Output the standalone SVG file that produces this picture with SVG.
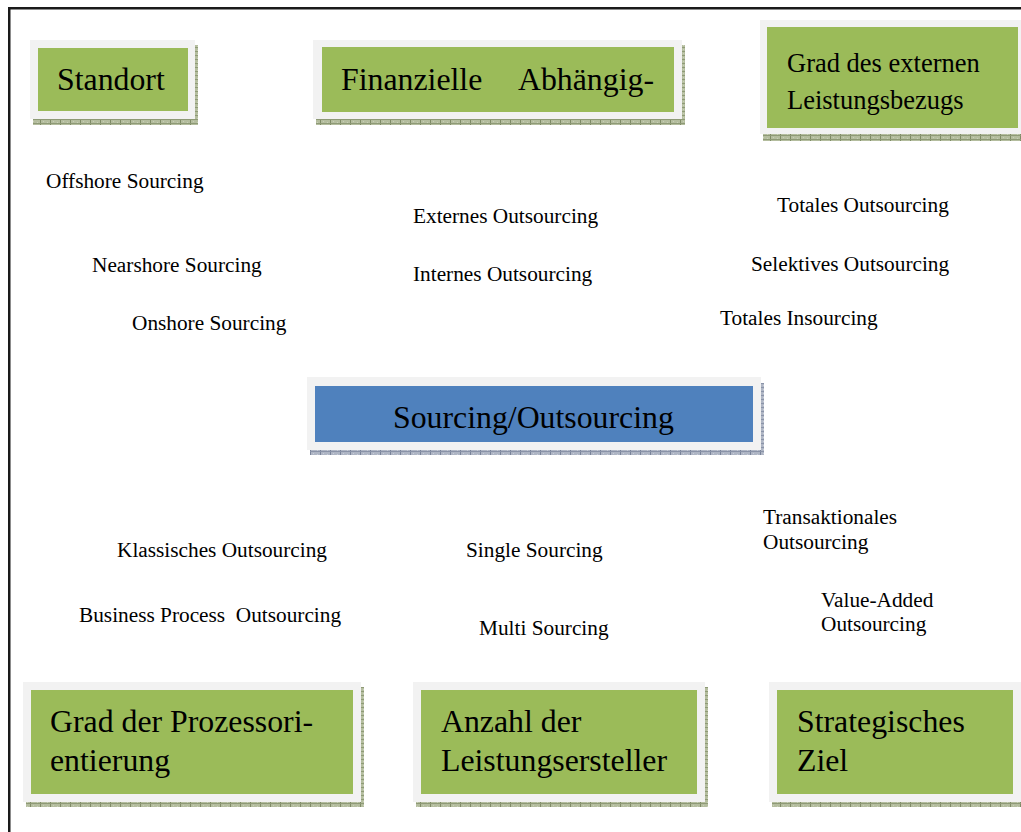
<svg xmlns="http://www.w3.org/2000/svg" width="1021" height="832" viewBox="0 0 1021 832">
<style>
.frame{fill:#f2f2f2}
.green{fill:#9bbb59}
.blue{fill:#4f81bd}
.shg{fill:url(#shadowG)}
.shb{fill:url(#shadowB)}
.t{font-family:"Liberation Serif","Times New Roman",serif;fill:#000}
.big{font-size:31.8px}
.mid{font-size:26.5px}
.small{font-size:21.3px}
</style>
<defs>
<pattern id="shadowG" patternUnits="userSpaceOnUse" width="10" height="4">
<rect width="10" height="4" fill="#b4bd9e"/>
<rect x="0" y="0" width="1" height="4" fill="#7f8b66"/>
<rect x="3" y="1" width="1" height="1" fill="#c9d0b8"/>
<rect x="7" y="2" width="1" height="1" fill="#c9d0b8"/>
<rect x="0" y="3" width="10" height="1" fill="#8e9a76"/>
</pattern>
<pattern id="shadowB" patternUnits="userSpaceOnUse" width="10" height="4">
<rect width="10" height="4" fill="#aeb5c4"/>
<rect x="0" y="0" width="1" height="4" fill="#7a849a"/>
<rect x="3" y="1" width="1" height="1" fill="#c8cdd8"/>
<rect x="7" y="2" width="1" height="1" fill="#c8cdd8"/>
<rect x="0" y="3" width="10" height="1" fill="#8a93a8"/>
</pattern>
</defs>
<rect width="1021" height="832" fill="#fff"/>
<g id="border">
<rect x="8" y="7" width="1013" height="2.5" fill="#1a1a1a"/>
<rect x="8" y="7" width="2.5" height="825" fill="#1a1a1a"/>
</g>
<g id="connectors"></g>

<g id="node-standort">
<rect class="shg" x="33" y="45" width="165" height="80"/>
<rect class="frame" x="30" y="40" width="165" height="79"/>
<rect class="green" x="38" y="48" width="150" height="63"/>
<text class="t big" x="57" y="90">Standort</text>
</g>

<g id="node-finanzielle">
<rect class="shg" x="316" y="45" width="369" height="80"/>
<rect class="frame" x="313" y="40" width="369" height="79"/>
<rect class="green" x="322" y="47" width="352" height="65"/>
<text class="t big" x="341" y="90">Finanzielle</text>
<text class="t big" x="518" y="90">Abhängig-</text>
</g>

<g id="node-grad-extern">
<rect class="shg" x="763" y="26" width="262" height="115"/>
<rect class="frame" x="760" y="20" width="262" height="114"/>
<rect class="green" x="767" y="27" width="251" height="101"/>
<text class="t mid" x="787" y="72">Grad des externen</text>
<text class="t mid" x="787" y="109">Leistungsbezugs</text>
</g>

<g id="node-sourcing">
<rect class="shb" x="310" y="383" width="454" height="72"/>
<rect class="frame" x="307" y="377" width="454" height="73"/>
<rect class="blue" x="315" y="386" width="438" height="56"/>
<text class="t big" x="393" y="428">Sourcing/Outsourcing</text>
</g>

<g id="node-prozess">
<rect class="shg" x="26" y="687" width="338" height="120"/>
<rect class="frame" x="23" y="682" width="338" height="120"/>
<rect class="green" x="31" y="690" width="322" height="104"/>
<text class="t big" x="50" y="732">Grad der Prozessori-</text>
<text class="t big" x="50" y="771">entierung</text>
</g>

<g id="node-anzahl">
<rect class="shg" x="416" y="687" width="292" height="120"/>
<rect class="frame" x="413" y="682" width="292" height="120"/>
<rect class="green" x="421" y="690" width="276" height="104"/>
<text class="t big" x="441" y="732">Anzahl der</text>
<text class="t big" x="441" y="771">Leistungsersteller</text>
</g>

<g id="node-ziel">
<rect class="shg" x="772" y="687" width="252" height="120"/>
<rect class="frame" x="769" y="682" width="252" height="120"/>
<rect class="green" x="777" y="690" width="236" height="104"/>
<text class="t big" x="797" y="732">Strategisches</text>
<text class="t big" x="797" y="771">Ziel</text>
</g>

<g id="labels-standort">
<text class="t small" x="46" y="188">Offshore Sourcing</text>
<text class="t small" x="92" y="272">Nearshore Sourcing</text>
<text class="t small" x="132" y="330">Onshore Sourcing</text>
</g>
<g id="labels-finanziell">
<text class="t small" x="413" y="223">Externes Outsourcing</text>
<text class="t small" x="413" y="281">Internes Outsourcing</text>
</g>
<g id="labels-extern">
<text class="t small" x="777" y="212">Totales Outsourcing</text>
<text class="t small" x="751" y="271">Selektives Outsourcing</text>
<text class="t small" x="720" y="325">Totales Insourcing</text>
</g>
<g id="labels-prozess">
<text class="t small" x="117" y="557">Klassisches Outsourcing</text>
<text class="t small" x="79" y="622" xml:space="preserve">Business Process  Outsourcing</text>
</g>
<g id="labels-anzahl">
<text class="t small" x="466" y="557">Single Sourcing</text>
<text class="t small" x="479" y="635">Multi Sourcing</text>
</g>
<g id="labels-ziel">
<text class="t small" x="763" y="524">Transaktionales</text>
<text class="t small" x="763" y="549">Outsourcing</text>
<text class="t small" x="821" y="607">Value-Added</text>
<text class="t small" x="821" y="631">Outsourcing</text>
</g>
</svg>
